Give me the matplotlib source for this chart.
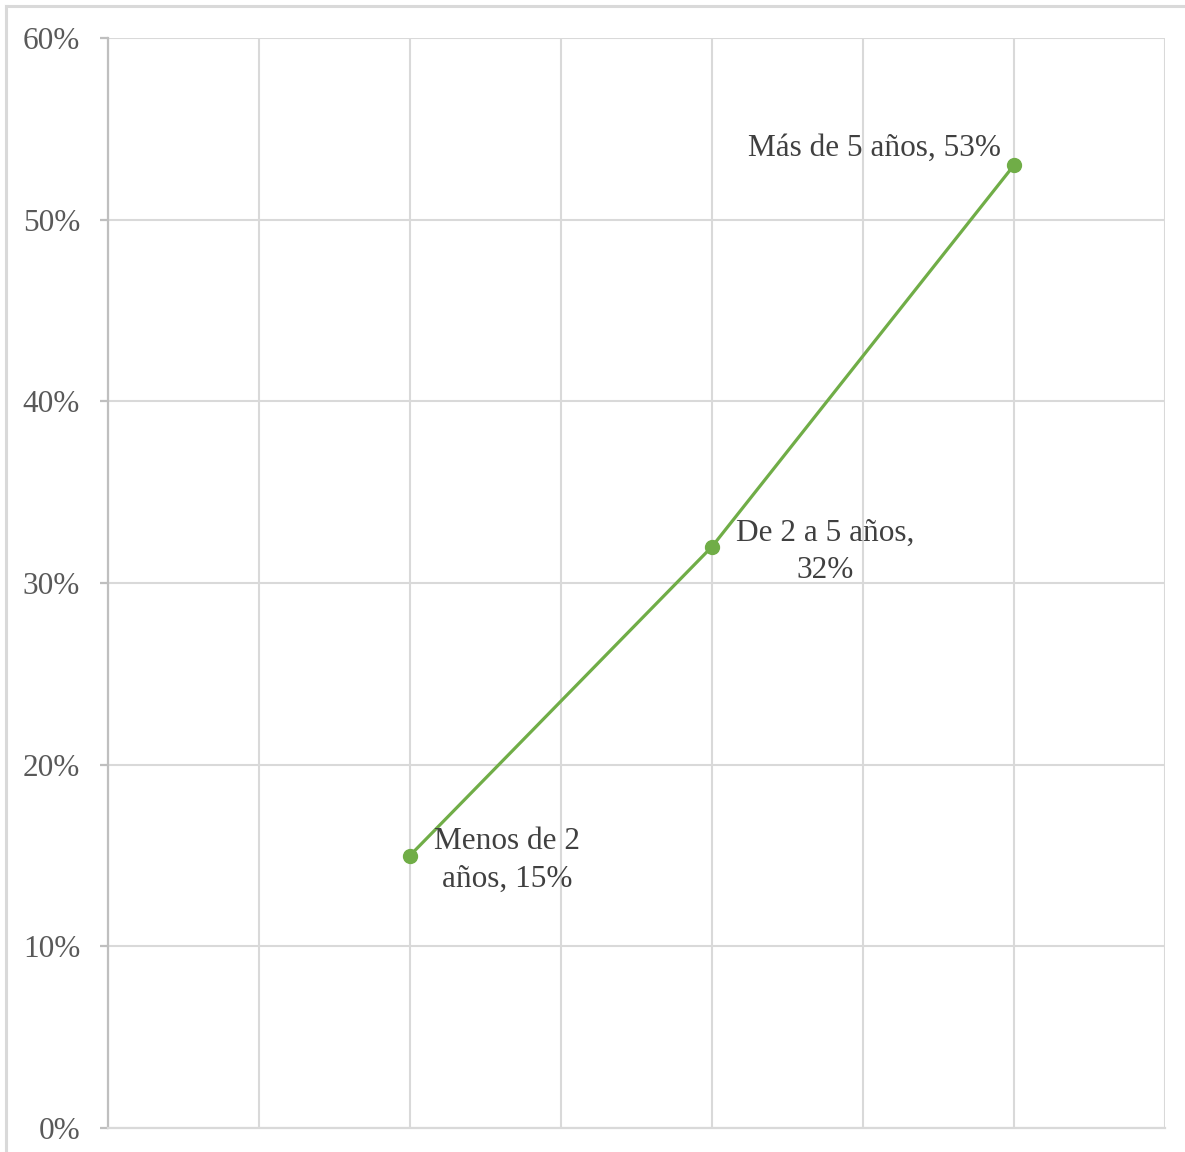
import matplotlib
matplotlib.use("Agg")
import matplotlib.pyplot as plt
from matplotlib.lines import Line2D
from matplotlib.ticker import MultipleLocator, FuncFormatter

# Antigüedad de los encuestados
categories = ["Menos de 2 años", "De 2 a 5 años", "Más de 5 años"]
x_values = [1, 2, 3]
shares = [0.15, 0.32, 0.53]
# where each data label wraps onto a second line
label_breaks = [("Menos de 2", "años, "), ("De 2 a 5 años,", ""), (None, None)]

W, H = 1185, 1152
fig = plt.figure(figsize=(W / 100, H / 100), dpi=100)
fig.patch.set_facecolor("white")

font = ["Liberation Serif", "DejaVu Serif"]
grid_c = "#d9d9d9"
text_c = "#595959"
green = "#70ad47"

# Chart-area border: top and left edges
fig.add_artist(Line2D([6 / W, 1.0], [1 - 6 / H, 1 - 6 / H],
                      transform=fig.transFigure, color=grid_c, linewidth=2.2))
fig.add_artist(Line2D([6 / W, 6 / W], [0.0, 1 - 6 / H],
                      transform=fig.transFigure, color=grid_c, linewidth=2.2))

ax = fig.add_axes([108 / W, 1 - 1128 / H, (1165 - 108) / W, (1128 - 38) / H])
ax.set_xlim(0, 3.5)
ax.set_ylim(0, 0.60)
ax.xaxis.set_major_locator(MultipleLocator(0.5))
ax.yaxis.set_major_locator(MultipleLocator(0.10))
ax.yaxis.set_major_formatter(FuncFormatter(lambda v, _: f"{v * 100:.0f}%"))
ax.grid(True, color=grid_c, linewidth=1.5)
ax.set_axisbelow(True)

for side in ("top", "right"):
    ax.spines[side].set_visible(False)
ax.spines["left"].set_color("#bfbfbf")
ax.spines["left"].set_linewidth(1.6)
ax.spines["bottom"].set_color(grid_c)
ax.spines["bottom"].set_linewidth(1.6)

ax.tick_params(axis="x", length=0, labelbottom=False)
ax.tick_params(axis="y", length=6, width=1.6, color="#bfbfbf",
               labelcolor=text_c, labelsize=22.5, pad=14)
for lab in ax.get_yticklabels():
    lab.set_fontfamily(font)

ax.plot(x_values, shares, color=green, linewidth=2.3, marker="o",
        markersize=10, markerfacecolor=green, markeredgecolor=green,
        clip_on=False, zorder=3)

# Data labels: category name followed by its share
lbl_kw = dict(fontsize=22.5, color="#404040", family=font, ha="center",
              linespacing=1.38, textcoords="offset pixels", va="center")
offsets = [(97, -5), (113, -5), (-139, 17)]
for cat, brk, x, y, off in zip(categories, label_breaks, x_values, shares,
                               offsets):
    pct = f"{y * 100:.0f}%"
    if brk[0] is None:
        text = f"{cat}, {pct}"
    else:
        text = f"{brk[0]}\n{brk[1]}{pct}"
    ax.annotate(text, (x, y), xytext=off, **lbl_kw)

fig.savefig("out.png", dpi=100, facecolor="white")
